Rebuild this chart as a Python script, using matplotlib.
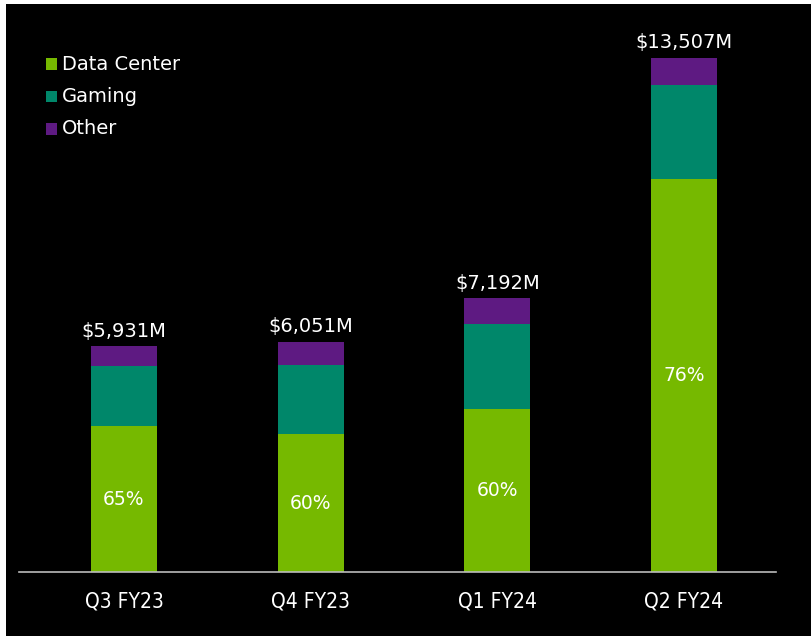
import matplotlib
matplotlib.use("Agg")
import matplotlib.pyplot as plt
from matplotlib.patches import Rectangle
from matplotlib import font_manager
import numpy as np

quarters = ["Q3 FY23", "Q4 FY23", "Q1 FY24", "Q2 FY24"]
data_center = [3833, 3620, 4284, 10323]
gaming = [1574, 1831, 2240, 2486]
other = [524, 600, 668, 698]
totals = ["$5,931M", "$6,051M", "$7,192M", "$13,507M"]
dc_share = ["65%", "60%", "60%", "76%"]
series_names = ["Data Center", "Gaming", "Other"]
colors = ["#76B900", "#00876A", "#5E1A82"]

# pick a condensed font for the category labels if one is available
narrow_fp = None
for f in font_manager.fontManager.ttflist:
    if f.name in ("Liberation Sans Narrow", "DejaVu Sans Condensed") or \
            (f.name == "DejaVu Sans" and "Condensed" in f.fname and "Bold" not in f.fname
             and "Oblique" not in f.fname):
        if "Bold" in f.fname or "Italic" in f.fname or "Oblique" in f.fname:
            continue
        narrow_fp = font_manager.FontProperties(fname=f.fname, size=15)
        if f.name == "Liberation Sans Narrow":
            break

W, H = 811, 636
fig = plt.figure(figsize=(W / 100, H / 100), dpi=100, facecolor="white")
fig.patches.append(Rectangle((5.5 / W, 0), 1, 1 - 4 / H, transform=fig.transFigure,
                             facecolor="black", edgecolor="none", zorder=-5))

font = "DejaVu Sans"
ax = fig.add_axes([19 / W, 1 - 572 / H, (776 - 19) / W, (572 - 4) / H])
ax.set_facecolor("none")
ax.set_zorder(2)
x = np.arange(len(quarters))
bw = 0.354
dc = np.array(data_center)
gm = np.array(gaming)
ot = np.array(other)
ax.bar(x, dc, bw, color=colors[0], zorder=2)
ax.bar(x, gm, bw, bottom=dc, color=colors[1], zorder=2)
ax.bar(x, ot, bw, bottom=dc + gm, color=colors[2], zorder=2)
tot = dc + gm + ot
for i in range(len(x)):
    ax.annotate(totals[i], (x[i], tot[i]), xytext=(0, 4), textcoords="offset points",
                ha="center", va="bottom", color="white", fontsize=14, family=font)
    ax.text(x[i], dc[i] / 2, dc_share[i], ha="center", va="center", color="white",
            fontsize=13.5, family=font, zorder=3)

ax.set_xlim(-0.5625, 3.493)
ax.set_ylim(0, 14925)
for s in ["top", "right", "left"]:
    ax.spines[s].set_visible(False)
ax.spines["bottom"].set_color("#BBBBBB")
ax.spines["bottom"].set_linewidth(1.2)
ax.set_yticks([])
ax.set_xticks(x)
if narrow_fp is not None:
    ax.set_xticklabels(quarters, color="white", fontproperties=narrow_fp)
else:
    ax.set_xticklabels(quarters, color="white", fontsize=14, family=font,
                       fontstretch="condensed")
ax.tick_params(axis="x", length=0, pad=14)

# legend
for j, name in enumerate(series_names):
    yc = 64 + j * 32.5
    fig.patches.append(Rectangle((46 / W, 1 - (yc + 5.5) / H), 11 / W, 11 / H,
                                 transform=fig.transFigure, facecolor=colors[j],
                                 edgecolor="none", zorder=3))
    fig.text(62 / W, 1 - yc / H, name, color="white", fontsize=14, family=font,
             ha="left", va="center")

fig.savefig("out.png", dpi=100, facecolor=fig.get_facecolor())
